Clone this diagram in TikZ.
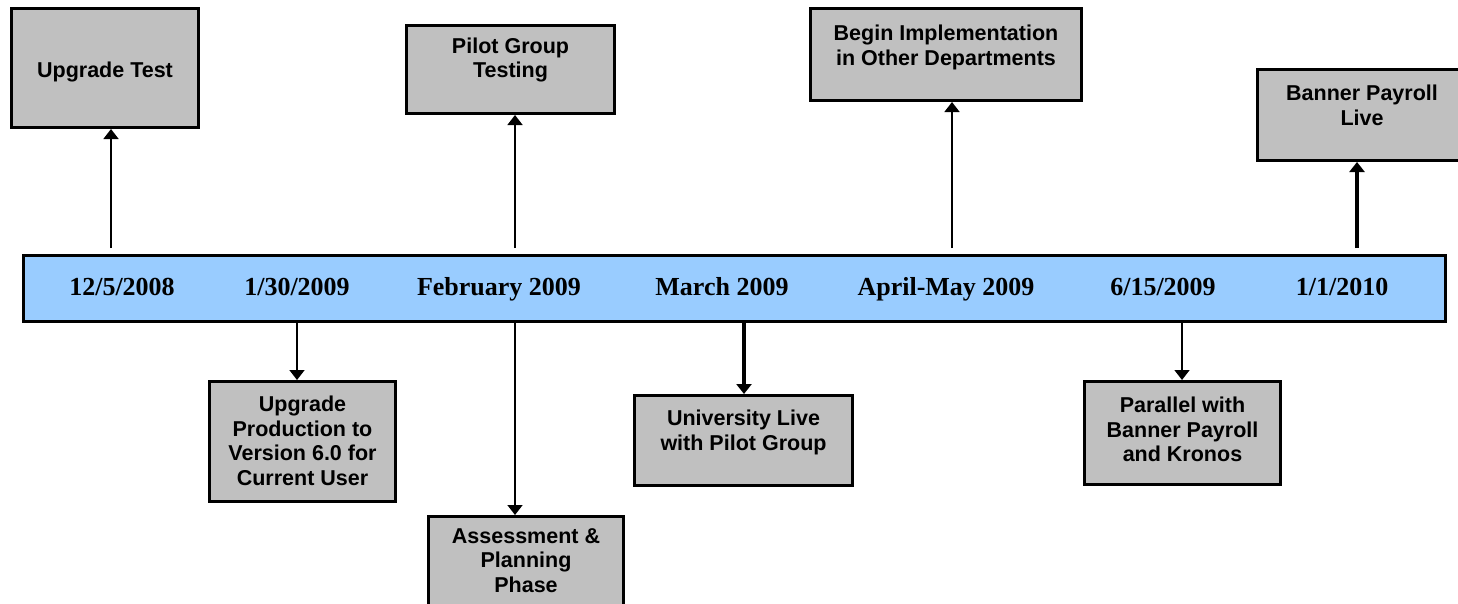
\documentclass[tikz,border=0pt]{standalone}
\usepackage{fontspec}
\setmainfont{Liberation Serif}
\newfontfamily\boxfont{Liberation Sans}
\usetikzlibrary{arrows.meta}
\definecolor{boxgray}{HTML}{C0C0C0}
\definecolor{barblue}{HTML}{99CCFF}
\begin{document}
\begin{tikzpicture}[x=1pt,y=-1pt,
  evbox/.style={draw=black, line width=3pt, fill=boxgray, rectangle, inner sep=0pt},
  evtext/.style={font={\boxfont\bfseries\fontsize{21.5}{24.7}\selectfont}, align=center, inner sep=0pt, anchor=north},
  datelabel/.style={font={\bfseries\fontsize{26}{30}\selectfont}, inner sep=0pt, anchor=base},
  link/.style={draw=black, line width=1.6pt, -{Triangle[length=10pt,width=15pt]}},
  boldlink/.style={link, line width=3.5pt}]
\useasboundingbox (0,0) rectangle (1458,603);
% timeline bar
\node[draw=black, line width=3pt, fill=barblue, rectangle, inner sep=0pt,
      minimum width=1422pt, minimum height=66pt] (bar) at (734.5,288.5) {};
\node[datelabel] (t1) at (122,295) {12/5/2008};
\node[datelabel] (t2) at (297,295) {1/30/2009};
\node[datelabel] (t3) at (499,295) {February 2009};
\node[datelabel] (t4) at (722,295) {March 2009};
\node[datelabel] (t5) at (946,295) {April-May 2009};
\node[datelabel] (t6) at (1163,295) {6/15/2009};
\node[datelabel] (t7) at (1342,295) {1/1/2010};
% event boxes
\node[evbox, minimum width=187pt, minimum height=119pt] (ut) at (105,68) {};
\node[evbox, minimum width=208pt, minimum height=88pt] (pg) at (510.5,69.5) {};
\node[evbox, minimum width=271pt, minimum height=92pt] (bi) at (946,54.5) {};
\node[evbox, minimum width=205pt, minimum height=91pt] (bp) at (1360,115) {};
\node[evbox, minimum width=186pt, minimum height=120pt] (up) at (302.5,441.5) {};
\node[evbox, minimum width=195pt, minimum height=94pt] (ap) at (526,563.5) {};
\node[evbox, minimum width=218pt, minimum height=90pt] (ul) at (743.5,440.5) {};
\node[evbox, minimum width=196pt, minimum height=103pt] (pk) at (1182.5,433) {};
% box texts
\node[evtext] (utx) at (105,61.7) {Upgrade Test};
\node[evtext] (pgx) at (510.5,37.3) {Pilot Group\\Testing};
\node[evtext] (bix) at (946,25) {Begin Implementation\\in Other Departments};
\node[evtext] (bpx) at (1362,85) {Banner Payroll\\Live};
\node[evtext] (upx) at (302.5,395.7) {Upgrade\\Production to\\Version 6.0 for\\Current User};
\node[evtext] (apx) at (526,528) {Assessment \&\\Planning\\Phase};
\node[evtext] (ulx) at (743.5,410) {University Live\\with Pilot Group};
\node[evtext] (pkx) at (1182.5,396.7) {Parallel with\\Banner Payroll\\and Kronos};
% connector anchors
\coordinate (u1) at (111,248);
\coordinate (u3) at (515,248);
\coordinate (u5) at (952,248);
\coordinate (u7) at (1357,248);
\coordinate (x2) at (297,0);
\coordinate (x3) at (515,0);
\coordinate (x4) at (744,0);
\coordinate (x6) at (1182,0);
% upward connectors
\draw[link] (u1) -- (ut.south -| u1);
\draw[link] (u3) -- (pg.south -| u3);
\draw[link] (u5) -- (bi.south -| u5);
\draw[boldlink] (u7) -- (bp.south -| u7);
% downward connectors
\draw[link] (bar.south -| x2) -- (up.north -| x2);
\draw[link] (bar.south -| x3) -- (ap.north -| x3);
\draw[boldlink] (bar.south -| x4) -- (ul.north -| x4);
\draw[link] (bar.south -| x6) -- (pk.north -| x6);
\end{tikzpicture}
\end{document}
